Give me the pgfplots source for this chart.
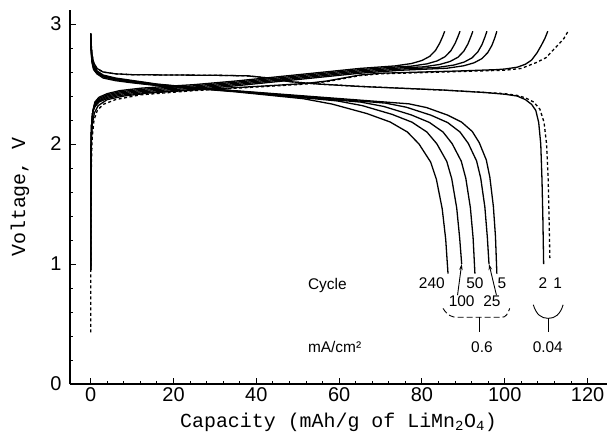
\documentclass[border=0pt]{standalone}
\usepackage{fontspec}
\setmainfont{Liberation Sans}
\newfontfamily\labelfont{Liberation Mono}
\usepackage{pgfplots}
\pgfplotsset{compat=1.18}
\usetikzlibrary{calc,arrows.meta}

\pgfplotsset{
  curve/.style={black, line width=1.3bp, line join=round, mark=none},
  firstcycle/.style={curve, dash pattern=on 3bp off 2.5bp},
}

\begin{document}
\begin{tikzpicture}
\begin{axis}[
  scale only axis, width=537bp, height=374bp,
  xmin=-5, xmax=124.7, ymin=0, ymax=3.117,
  axis x line=bottom, axis y line=left,
  axis line style={-, line width=1.1bp},
  tick align=inside, major tick length=6bp, minor tick length=3bp,
  tick style={black, line width=0.9bp},
  xtick={0,20,...,120}, ytick={0,1,2,3},
  minor x tick num=4, minor y tick num=4,
  /pgf/number format/assume math mode=true,
  ticklabel style={font=\fontsize{20}{24}\selectfont},
  yticklabel style={xshift=-5bp},
  xlabel={Capacity (mAh/g of LiMn\textsubscript{2}O\textsubscript{4})},
  ylabel={Voltage, V},
  label style={font=\labelfont\fontsize{20}{24}\selectfont},
  xlabel style={at={(axis description cs:0.5,-0.102)}, anchor=center},
  ylabel style={at={(axis description cs:-0.093,0.5)}, anchor=center},
]

% ---- discharge, 0.6 mA/cm^2 ----
% cycle 5
\addplot[curve] coordinates {(0,2.92)(0.1,2.82)(0.3,2.72)(0.7,2.66)(1.5,2.61)(3,2.575)(6,2.55)(10,2.53)(16,2.50)(25,2.47)(35,2.444)(45,2.418)(55,2.392)(65,2.366)(76.85,2.335)(81.1,2.304)(86.2,2.241)(89.6,2.182)(92.15,2.105)(93.85,2.011)(95.55,1.867)(96.4,1.724)(97.25,1.482)(97.76,1.231)(98.1,0.92)};
% cycle 25
\addplot[curve] coordinates {(0,2.92)(0.1,2.81)(0.3,2.71)(0.7,2.65)(1.5,2.605)(3,2.57)(6,2.545)(10,2.525)(16,2.497)(25,2.47)(35,2.442)(45,2.414)(55,2.386)(65,2.358)(71.2,2.341)(76.2,2.307)(82.2,2.240)(86.2,2.179)(89.2,2.100)(91.2,2.005)(93.2,1.859)(94.2,1.716)(95.2,1.474)(95.8,1.222)(96.2,1.0)};
% cycle 50
\addplot[curve] coordinates {(0,2.92)(0.1,2.80)(0.3,2.70)(0.7,2.64)(1.5,2.60)(3,2.565)(6,2.54)(10,2.52)(16,2.494)(25,2.468)(35,2.44)(45,2.41)(55,2.38)(65.3,2.349)(70.8,2.313)(77.4,2.243)(81.8,2.180)(85.1,2.100)(87.3,2.003)(89.5,1.857)(90.6,1.714)(91.7,1.470)(92.36,1.218)(92.8,0.92)};
% cycle 100
\addplot[curve] coordinates {(0,2.92)(0.1,2.79)(0.3,2.69)(0.7,2.63)(1.5,2.59)(3,2.56)(6,2.535)(10,2.515)(16,2.49)(25,2.466)(35,2.438)(45,2.406)(55,2.374)(59.6,2.359)(65.6,2.320)(72.8,2.247)(77.6,2.182)(81.2,2.100)(83.6,2.002)(86.0,1.855)(87.2,1.711)(88.4,1.467)(89.12,1.215)(89.6,1.0)};
% cycle 240
\addplot[curve] coordinates {(0,2.92)(0.1,2.78)(0.3,2.68)(0.7,2.62)(1.5,2.585)(3,2.55)(6,2.528)(10,2.51)(16,2.487)(25,2.463)(35,2.435)(45,2.40)(51.3,2.378)(58.3,2.333)(66.7,2.254)(72.3,2.184)(76.5,2.100)(79.3,2.000)(82.1,1.850)(83.5,1.705)(84.9,1.460)(85.74,1.207)(86.3,0.92)};

% ---- charge, 0.6 mA/cm^2 ----
% cycle 5
\addplot[curve] coordinates {(0,0.95)(0.03,1.6)(0.08,1.95)(0.2,2.15)(0.5,2.27)(1,2.31)(2,2.35)(4,2.38)(7,2.405)(12,2.425)(18,2.44)(25,2.455)(35,2.485)(45,2.52)(55,2.555)(65,2.59)(75,2.615)(85,2.63)(86.1,2.632)(90.1,2.652)(92.6,2.677)(94.5,2.712)(95.9,2.762)(96.9,2.822)(97.6,2.885)(98.1,2.94)};
% cycle 25
\addplot[curve] coordinates {(0,0.95)(0.03,1.6)(0.08,1.95)(0.2,2.15)(0.5,2.27)(1,2.32)(2,2.36)(4,2.39)(7,2.415)(12,2.435)(18,2.45)(25,2.465)(35,2.495)(45,2.53)(55,2.565)(65,2.60)(75,2.625)(83.7,2.638)(87.7,2.658)(90.2,2.683)(92.1,2.718)(93.5,2.768)(94.5,2.828)(95.2,2.89)(95.7,2.94)};
% cycle 50
\addplot[curve] coordinates {(0,0.95)(0.03,1.6)(0.08,1.95)(0.2,2.15)(0.5,2.27)(1,2.33)(2,2.37)(4,2.40)(7,2.425)(12,2.445)(18,2.46)(25,2.475)(35,2.505)(45,2.54)(55,2.575)(65,2.61)(75,2.635)(80.3,2.643)(84.3,2.663)(86.8,2.688)(88.7,2.723)(90.1,2.773)(91.1,2.833)(91.8,2.893)(92.3,2.94)};
% cycle 100
\addplot[curve] coordinates {(0,0.95)(0.03,1.6)(0.08,1.95)(0.2,2.15)(0.5,2.27)(1,2.34)(2,2.38)(4,2.41)(7,2.435)(12,2.455)(18,2.47)(25,2.485)(35,2.515)(45,2.55)(55,2.585)(65,2.62)(75,2.645)(77.2,2.648)(81.2,2.668)(83.7,2.693)(85.6,2.728)(87.0,2.778)(88.0,2.838)(88.7,2.895)(89.2,2.94)};
% cycle 240
\addplot[curve] coordinates {(0,0.95)(0.03,1.6)(0.08,1.95)(0.2,2.15)(0.5,2.27)(1,2.35)(2,2.39)(4,2.42)(7,2.445)(12,2.465)(18,2.48)(25,2.495)(35,2.525)(45,2.56)(55,2.595)(65,2.63)(73.5,2.651)(77.5,2.671)(80,2.696)(81.9,2.731)(83.3,2.781)(84.3,2.841)(85.0,2.895)(85.5,2.94)};

% ---- 0.04 mA/cm^2: cycle 2 (solid) and cycle 1 (dashed) ----
\addplot[curve] coordinates {(0,2.92)(0.1,2.84)(0.3,2.75)(0.7,2.68)(1.5,2.63)(3,2.60)(6,2.585)(10,2.578)(20,2.575)(30,2.573)(38,2.568)(43,2.55)(48,2.52)(55,2.50)(65,2.48)(75,2.465)(85,2.45)(95,2.43)(100,2.415)(103,2.40)(105,2.37)(106.5,2.33)(107.5,2.28)(108.2,2.18)(108.7,2.0)(109.0,1.7)(109.2,1.4)(109.4,1.0)};
\addplot[curve] coordinates {(0,1.0)(0.05,1.7)(0.15,2.0)(0.4,2.17)(0.9,2.26)(1.8,2.32)(4,2.37)(8,2.40)(14,2.425)(25,2.45)(35,2.47)(45,2.49)(52,2.505)(57,2.525)(61,2.55)(65,2.575)(70,2.59)(80,2.60)(90,2.61)(98,2.62)(100,2.625)(103,2.64)(105,2.665)(106.5,2.70)(107.8,2.76)(108.8,2.82)(109.7,2.88)(110.4,2.94)};
\addplot[firstcycle] coordinates {(0,2.92)(0.1,2.84)(0.3,2.75)(0.7,2.68)(1.5,2.63)(3,2.60)(6,2.585)(10,2.578)(20,2.575)(30,2.573)(38,2.568)(43,2.55)(48,2.52)(55,2.50)(65,2.48)(75,2.465)(85,2.45)(95,2.43)(100,2.42)(103,2.405)(105,2.385)(107,2.35)(108.5,2.29)(109.5,2.18)(110.1,2.0)(110.5,1.7)(110.7,1.4)(110.9,1.05)};
\addplot[firstcycle] coordinates {(0,0.43)(0.05,1.2)(0.15,1.8)(0.35,2.05)(0.8,2.2)(1.6,2.28)(3,2.33)(6,2.37)(12,2.41)(25,2.445)(35,2.465)(45,2.485)(52,2.50)(57,2.52)(61,2.545)(65,2.57)(70,2.585)(80,2.595)(90,2.605)(100,2.615)(104,2.63)(107.7,2.68)(110,2.72)(111.6,2.78)(113,2.83)(114.3,2.88)(115.3,2.94)};

% ---- annotations ----
\begin{scope}[every node/.style={font=\fontsize{15.5}{18}\selectfont, inner sep=1bp}]
  \node[anchor=west] at (axis cs:52.2,0.82) {Cycle};
  \node at (axis cs:82.4,0.84) {240};
  \node at (axis cs:92.8,0.84) {50};
  \node at (axis cs:99.3,0.84) {5};
  \node at (axis cs:109.2,0.84) {2};
  \node at (axis cs:112.8,0.84) {1};
  \node at (axis cs:89.6,0.69) {100};
  \node at (axis cs:96.9,0.69) {25};
  \node[anchor=west] at (axis cs:52.2,0.31) {mA/cm²};
  \node at (axis cs:94.5,0.31) {0.6};
  \node at (axis cs:110.4,0.31) {0.04};
\end{scope}
\draw[line width=0.9bp, -{Stealth[length=6bp,width=3.5bp]}] (axis cs:88.6,0.74) -- (axis cs:89.6,1.0);
\draw[line width=0.9bp, -{Stealth[length=6bp,width=3.5bp]}] (axis cs:98.0,0.74) -- (axis cs:96.2,1.0);
\draw[line width=0.9bp, dash pattern=on 6bp off 3bp] (axis cs:85.1,0.63) .. controls (axis cs:86.2,0.57) and (axis cs:87.2,0.556) .. (axis cs:88.6,0.556) -- (axis cs:99.4,0.556) .. controls (axis cs:100.3,0.556) and (axis cs:100.8,0.59) .. (axis cs:101.2,0.63);
\draw[line width=0.9bp] (axis cs:94.0,0.556) -- (axis cs:94.0,0.436);
\draw[line width=0.9bp] (axis cs:106.9,0.66) .. controls (axis cs:107.6,0.58) and (axis cs:108.8,0.547) .. (axis cs:110.5,0.547) .. controls (axis cs:112.2,0.547) and (axis cs:113.4,0.58) .. (axis cs:114.1,0.66);
\draw[line width=0.9bp] (axis cs:110.5,0.547) -- (axis cs:110.5,0.436);
\end{axis}
\pgfresetboundingbox
\path[use as bounding box] ($(current axis.south west)+(-70bp,-58bp)$) rectangle ($(current axis.north east)+(4bp,10bp)$);
\end{tikzpicture}
\end{document}
